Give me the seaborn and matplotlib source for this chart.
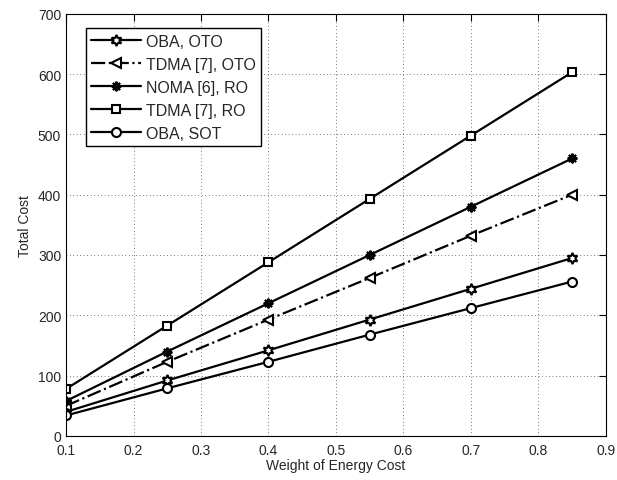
import numpy as np
import pandas as pd
import matplotlib
matplotlib.use("Agg")
import matplotlib.pyplot as plt
import seaborn as sns

# data
weights = [0.1, 0.25, 0.4, 0.55, 0.7, 0.85]
oba_oto = [40, 92, 142, 193, 244, 295]
tdma_oto = [50, 123, 193, 262, 332, 400]
noma_ro = [58, 140, 220, 300, 380, 460]
tdma_ro = [78, 183, 288, 393, 498, 603]
oba_sot = [34, 79, 123, 168, 212, 256]

series = ["OBA, OTO", "TDMA [7], OTO", "NOMA [6], RO", "TDMA [7], RO", "OBA, SOT"]
values = [oba_oto, tdma_oto, noma_ro, tdma_ro, oba_sot]

df = pd.DataFrame({
    "w": weights * len(series),
    "cost": sum(values, []),
    "name": np.repeat(series, len(weights)),
})

sns.set_style("white")
plt.rcParams["font.family"] = ["Liberation Sans", "DejaVu Sans"]

fig = plt.figure(figsize=(6.17, 4.81), dpi=100)
ax = fig.add_axes([0.107, 0.0915, 0.875, 0.878])

markers = {
    "OBA, OTO": (6, 1, 0),
    "TDMA [7], OTO": "<",
    "NOMA [6], RO": (8, 2, 0),
    "TDMA [7], RO": "s",
    "OBA, SOT": "o",
}
styles = {
    "OBA, OTO": "-",
    "TDMA [7], OTO": "-.",
    "NOMA [6], RO": "-",
    "TDMA [7], RO": "-",
    "OBA, SOT": "-",
}
msizes = {"OBA, OTO": 8, "TDMA [7], OTO": 7, "NOMA [6], RO": 7, "TDMA [7], RO": 5.5, "OBA, SOT": 6.5}

for name in series:
    sub = df[df["name"] == name]
    sns.lineplot(data=sub, x="w", y="cost", ax=ax, color="black", linewidth=1.6,
                 linestyle=styles[name], marker=markers[name], markersize=msizes[name],
                 markerfacecolor="white", markeredgecolor="black", markeredgewidth=1.5,
                 label=name)

ax.set_xlim(0.1, 0.9)
ax.set_ylim(0, 700)
ax.set_xticks(np.arange(0.1, 0.91, 0.1))
ax.set_xticklabels(["0.1", "0.2", "0.3", "0.4", "0.5", "0.6", "0.7", "0.8", "0.9"])
ax.set_yticks(range(0, 701, 100))
ax.grid(True, linestyle=(0, (1, 4)), color="black", linewidth=0.5)
ax.tick_params(direction="in", top=True, right=True, labelsize=10, length=5, color="black")
ax.tick_params(axis="x", pad=5)
for sp in ax.spines.values():
    sp.set_color("black")
    sp.set_linewidth(0.8)

ax.set_xlabel("Weight of Energy Cost", fontsize=10, labelpad=1)
ax.set_ylabel("Total Cost", fontsize=10, labelpad=4)

leg = ax.legend(loc="upper left", bbox_to_anchor=(0.022, 0.985), fontsize=11.5,
                frameon=True, fancybox=False, edgecolor="black", framealpha=1,
                handlelength=3.1, labelspacing=0.5, borderpad=0.35, handletextpad=0.3)
leg.get_frame().set_linewidth(1.0)

fig.savefig("out.png", dpi=100)
